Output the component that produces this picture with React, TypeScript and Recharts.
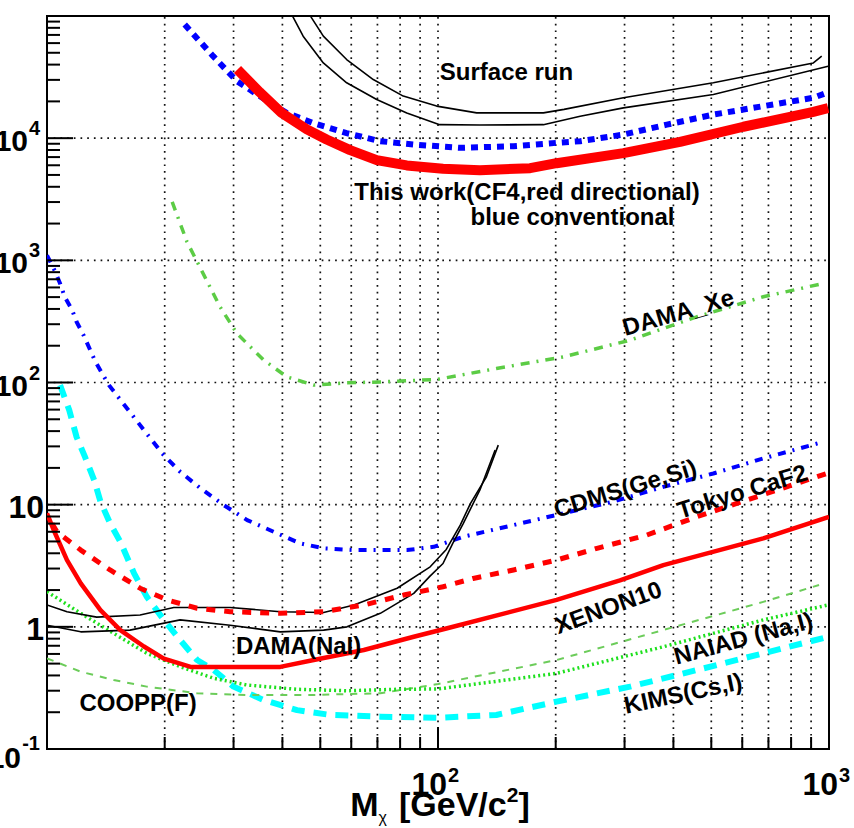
import React from 'react';
import { LineChart, Line, XAxis, YAxis, ReferenceLine, ReferenceArea, ReferenceDot } from 'recharts';

type Pt = [number, number];

// ---------- series values (x: WIMP mass GeV/c^2, y: cross-section limit) ----------
const SURFACE_RUN_UPPER: Pt[] = [[44.4, 136000], [47.5, 96600], [50.9, 68400], [58.4, 44000], [68.3, 30200], [81.5, 22100], [99.2, 18300], [125.6, 16100], [186, 16100], [210, 17200], [298, 21400], [506, 28400], [912, 41300], [958, 46900]];
const SURFACE_RUN_LOWER: Pt[] = [[40.2, 136000], [42.7, 96600], [45.2, 68400], [50.9, 41300], [58.4, 28400], [69.7, 20700], [83.2, 16100], [101, 12900], [128, 12800], [186, 12900], [231, 15100], [298, 17700], [506, 22800], [995, 38800]];
const THIS_WORK_CONVENTIONAL: Pt[] = [[22.5, 85200], [26.6, 46900], [30.6, 29300], [35.0, 22100], [41.0, 16100], [48.0, 13300], [58.4, 11000], [71.1, 9450], [86.5, 8880], [114, 8330], [156, 8600], [201, 9160], [231, 9450], [298, 10700], [385, 12900], [506, 15600], [679, 18300], [912, 21400], [986, 23500]];
const THIS_WORK_DIRECTIONAL: Pt[] = [[30.7, 36500], [35.0, 23800], [39.8, 16100], [46.2, 11800], [51.9, 9750], [59.6, 7980], [69.7, 6610], [83.2, 5980], [103, 5610], [128, 5470], [172, 5680], [201, 6240], [298, 7540], [416, 9330], [604, 12400], [912, 16400], [995, 17600]];
const DAMA_XE: Pt[] = [[20.9, 3010], [22.8, 1420], [25.2, 757], [27.7, 417], [30.6, 252], [35.8, 153], [41.1, 111], [48.1, 95.2], [58.5, 99.5], [71.2, 101], [99.4, 106], [141, 130], [209, 162], [310, 222], [459, 345], [679, 503], [967, 647]];
const CDMS_GE_SI: Pt[] = [[10, 1100], [10.5, 805], [10.8, 647], [11.1, 503], [11.6, 391], [11.9, 314], [12.4, 244], [13.3, 148], [14.4, 95.2], [15.9, 63.3], [17.7, 40.8], [19.7, 26.3], [21.9, 18.6], [24.7, 13.6], [28.3, 9.93], [32.5, 7.48], [38.0, 6.0], [44.4, 4.82], [51.0, 4.39], [60.9, 4.25], [83.3, 4.25], [97.5, 4.52], [116, 5.46], [156, 6.81], [209, 8.49], [281, 10.6], [377, 14.0], [506, 18.0], [679, 23.9], [967, 32.7]];
const TOKYO_CAF2: Pt[] = [[10.3, 7.0], [10.6, 6.0], [12.2, 4.25], [14.5, 2.92], [17.3, 2.07], [20.3, 1.66], [24.2, 1.42], [29.4, 1.33], [39.5, 1.29], [51.0, 1.33], [64.6, 1.51], [81.7, 1.82], [103, 2.13], [123, 2.49], [156, 2.92], [201, 3.52], [255, 4.39], [342, 5.64], [459, 7.96], [616, 10.9], [827, 14.9], [986, 18.0]];
const XENON10: Pt[] = [[10, 8.5], [10.4, 6.2], [11.25, 3.52], [12.2, 2.27], [13.7, 1.37], [15.4, 0.94], [17.7, 0.69], [19.9, 0.55], [23.3, 0.47], [39.5, 0.47], [48.1, 0.535], [64.6, 0.646], [86.7, 0.83], [105, 0.97], [201, 1.66], [292, 2.4], [377, 3.2], [679, 5.3], [1000, 7.96]];
const DAMA_NAI_UPPER: Pt[] = [[10, 1.51], [11.25, 1.33], [13.4, 1.2], [17.3, 1.25], [21.1, 1.44], [29.4, 1.44], [39.5, 1.33], [51, 1.31], [61, 1.51], [78.6, 2.07], [95.5, 3.1], [105, 4.3], [114, 6.8], [121, 10.2], [133, 16.9], [142.6, 30.7]];
const DAMA_NAI_LOWER: Pt[] = [[10, 1.03], [12.2, 0.91], [16.3, 0.94], [21.9, 1.14], [29.4, 1.03], [39.5, 0.91], [51, 0.94], [58.5, 1.0], [71.2, 1.29], [86.7, 1.88], [95.4, 2.6], [103, 3.3], [109, 4.8], [116, 7.0], [128, 13.2], [140, 28]];
const NAIAD: Pt[] = [[10, 1.94], [12.2, 1.29], [14.8, 0.885], [18.0, 0.607], [21.9, 0.472], [26.7, 0.379], [32.5, 0.334], [43.6, 0.308], [58.5, 0.30], [78.6, 0.308], [100, 0.31], [201, 0.416], [377, 0.687], [679, 1.14], [995, 1.51]];
const COOPP: Pt[] = [[10, 0.552], [12.2, 0.429], [14.8, 0.367], [18.0, 0.324], [24.2, 0.286], [32.5, 0.277], [48.1, 0.277], [71.2, 0.286], [100, 0.34], [201, 0.535], [377, 0.942], [679, 1.6], [943, 2.2]];
const KIMS: Pt[] = [[10.8, 95.2], [11.4, 59.4], [11.9, 35.9], [12.5, 24.7], [13.2, 15.9], [13.7, 10.6], [14.5, 7.03], [15.4, 4.97], [16.7, 2.74], [18.0, 1.76], [19.9, 1.14], [21.9, 0.78], [24.2, 0.535], [26.7, 0.443], [30.0, 0.324], [35.8, 0.252], [43.6, 0.208], [53.0, 0.19], [71.2, 0.184], [99.4, 0.18], [141, 0.19], [201, 0.244], [310, 0.324], [459, 0.443], [679, 0.607], [995, 0.829]];

// ---------- axis ticks and labels ----------
const X_DOMAIN: [number, number] = [10, 1000];
const Y_DOMAIN: [number, number] = [0.1, 100000];
const X_TICKS = [20, 30, 40, 50, 60, 70, 80, 90, 100, 200, 300, 400, 500, 600, 700, 800, 900, 1000];
const X_GRID = [20, 30, 40, 50, 60, 70, 80, 90, 100, 200, 300, 400, 500, 600, 700, 800, 900];
const X_MAJOR = [100, 1000];
const X_MAJOR_EXP = ['2', '3'];
const Y_MAJOR = [0.1, 1, 10, 100, 1000, 10000];
const Y_MAJOR_BASE = ['10', '1', '10', '10', '10', '10'];
const Y_MAJOR_EXP = ['-1', '', '', '2', '3', '4'];
const Y_GRID = [1, 10, 100, 1000, 10000];
const Y_MINOR_MULT = [2, 3, 4, 5, 6, 7, 8, 9];
const Y_TICKS: number[] = [];
Y_MAJOR.forEach((d) => {
  Y_TICKS.push(d);
  Y_MINOR_MULT.forEach((m) => Y_TICKS.push(d * m));
});

// ---------- text annotations (data coordinates) ----------
const ANNOTATIONS = [
  { txt: 'Surface run', x: 149.7, y: 35300, rot: 0 },
  { txt: 'This work(CF4,red directional)', x: 168.9, y: 3680, rot: 0 },
  { txt: 'blue conventional', x: 220.8, y: 2300, rot: 0 },
  { txt: 'DAMA_Xe', x: 411, y: 377, rot: -16 },
  { txt: 'CDMS(Ge,Si)', x: 300.8, y: 13.7, rot: -17 },
  { txt: 'Tokyo CaF2', x: 599, y: 12.9, rot: -17 },
  { txt: 'XENON10', x: 272, y: 1.45, rot: -20 },
  { txt: 'NAIAD (Na,I)', x: 603, y: 0.81, rot: -15 },
  { txt: 'KIMS(Cs,I)', x: 423, y: 0.287, rot: -12 },
  { txt: 'DAMA(NaI)', x: 44.0, y: 0.697, rot: 0 },
  { txt: 'COOPP(F)', x: 17.1, y: 0.24, rot: 0 },
];

const FONT = '"Liberation Sans", Arial, Helvetica, sans-serif';

const SERIES = [
  { name: 'surfaceUpper', data: SURFACE_RUN_UPPER, color: '#000000', width: 1.6, dash: undefined },
  { name: 'surfaceLower', data: SURFACE_RUN_LOWER, color: '#000000', width: 1.6, dash: undefined },
  { name: 'damaXe', data: DAMA_XE, color: '#5ccc45', width: 3.5, dash: '9 7 2 7' },
  { name: 'cdms', data: CDMS_GE_SI, color: '#0000ff', width: 4, dash: '8 7 2 7' },
  { name: 'kims', data: KIMS, color: '#00ffff', width: 6, dash: '13 9' },
  { name: 'coopp', data: COOPP, color: '#6ccc5a', width: 2, dash: '7 7' },
  { name: 'naiad', data: NAIAD, color: '#1ee01e', width: 3.5, dash: '2 3' },
  { name: 'damaNaiUpper', data: DAMA_NAI_UPPER, color: '#000000', width: 1.6, dash: undefined },
  { name: 'damaNaiLower', data: DAMA_NAI_LOWER, color: '#000000', width: 1.6, dash: undefined },
  { name: 'tokyo', data: TOKYO_CAF2, color: '#ff0000', width: 5, dash: '9 9' },
  { name: 'xenon10', data: XENON10, color: '#ff0000', width: 4.5, dash: undefined },
  { name: 'conventional', data: THIS_WORK_CONVENTIONAL, color: '#0000ff', width: 6, dash: '7 6' },
  { name: 'directional', data: THIS_WORK_DIRECTIONAL, color: '#ff0000', width: 10, dash: undefined },
];

const toRows = (pts: Pt[]) => pts.map(([x, y]) => ({ x, y }));

const XTick = (props: any) => {
  const { x, y, payload } = props;
  const v = payload.value;
  const i = X_MAJOR.findIndex((m) => Math.abs(m - v) < 1e-9);
  const major = i >= 0;
  return (
    <g>
      <line x1={x} y1={y} x2={x} y2={y - (major ? 22 : 12)} stroke="#000" strokeWidth={2} />
      {major && (
        <g fontFamily={FONT} fontWeight="bold" fill="#000">
          <text x={x + 9} y={y + 46} textAnchor="end" fontSize={32}>10</text>
          <text x={x + 10} y={y + 33} fontSize={20}>{X_MAJOR_EXP[i]}</text>
        </g>
      )}
    </g>
  );
};

const YTick = (props: any) => {
  const { x, y, payload } = props;
  const v = payload.value;
  const i = Y_MAJOR.findIndex((m) => Math.abs(Math.log10(m) - Math.log10(v)) < 1e-6);
  const major = i >= 0;
  let label: React.ReactNode = null;
  if (major) {
    const base = Y_MAJOR_BASE[i];
    const exp = Y_MAJOR_EXP[i];
    if (!exp) {
      label = <text x={x - 3} y={y + 13} textAnchor="end" fontSize={32}>{base}</text>;
    } else {
      const low = v < 1;
      const supW = exp.length > 1 ? 19 : 12;
      label = (
        <>
          <text x={x - 7 - supW} y={y + (low ? 19 : 13)} textAnchor="end" fontSize={30}>{base}</text>
          <text x={x - 7} y={y + (low ? 1 : -3)} textAnchor="end" fontSize={20}>{exp}</text>
        </>
      );
    }
  }
  return (
    <g>
      <line x1={x} y1={y} x2={x + (major ? 26 : 13)} y2={y} stroke="#000" strokeWidth={2} />
      {major && (
        <g fontFamily={FONT} fontWeight="bold" fill="#000">{label}</g>
      )}
    </g>
  );
};

const Anno = (props: any) => {
  const { viewBox, txt, rot } = props;
  if (!viewBox) return null;
  const cx = viewBox.x + (viewBox.width || 0) / 2;
  const cy = viewBox.y + (viewBox.height || 0) / 2;
  return (
    <text
      x={cx}
      y={cy}
      textAnchor="middle"
      dominantBaseline="central"
      fontFamily={FONT}
      fontWeight="bold"
      fontSize={24}
      fill="#000"
      transform={rot ? `rotate(${rot} ${cx} ${cy})` : undefined}
    >
      {txt}
    </text>
  );
};

const AxisTitle = (props: any) => {
  const { viewBox } = props;
  if (!viewBox) return null;
  const cx = viewBox.x + viewBox.width / 2 + 2;
  const by = viewBox.y + 67;
  return (
    <text x={cx} y={by} textAnchor="middle" fontFamily={FONT} fontWeight="bold" fontSize={34} fill="#000">
      M<tspan fontSize={16} fontWeight="normal" dy={7}>χ</tspan>
      <tspan dx={12} dy={-7}>[GeV/c</tspan>
      <tspan fontSize={21} dy={-14}>2</tspan>
      <tspan dy={14}>]</tspan>
    </text>
  );
};

export default function App() {
  return (
    <div style={{ position: 'absolute', left: 0, top: 0, width: 854, height: 828, background: '#fff' }}>
      <LineChart width={854} height={828} margin={{ top: 16, right: 25, bottom: 0, left: 0 }}>
        <XAxis
          dataKey="x"
          type="number"
          scale="log"
          domain={X_DOMAIN}
          allowDataOverflow
          ticks={X_TICKS}
          interval={0}
          height={79}
          axisLine={false}
          tickLine={false}
          tickSize={0}
          tickMargin={0}
          tick={<XTick />}
          label={<AxisTitle />}
        />
        <YAxis
          dataKey="y"
          type="number"
          scale="log"
          domain={Y_DOMAIN}
          allowDataOverflow
          ticks={Y_TICKS}
          interval={0}
          width={47}
          axisLine={false}
          tickLine={false}
          tickSize={0}
          tickMargin={0}
          tick={<YTick />}
        />
        {X_GRID.map((v) => (
          <ReferenceLine key={'gx' + v} x={v} stroke="#111" strokeWidth={1.7} strokeDasharray="1.7 5" />
        ))}
        {Y_GRID.map((v) => (
          <ReferenceLine key={'gy' + v} y={v} stroke="#111" strokeWidth={1.7} strokeDasharray="1.7 5" />
        ))}
        {SERIES.map((s) => (
          <Line
            key={s.name}
            name={s.name}
            data={toRows(s.data)}
            dataKey="y"
            type="linear"
            dot={false}
            activeDot={false}
            isAnimationActive={false}
            stroke={s.color}
            strokeWidth={s.width}
            strokeDasharray={s.dash}
            strokeLinejoin="round"
          />
        ))}
        {ANNOTATIONS.map((a) => (
          <ReferenceDot
            key={a.txt}
            x={a.x}
            y={a.y}
            r={0}
            fill="none"
            stroke="none"
            label={<Anno txt={a.txt} rot={a.rot} />}
          />
        ))}
        <ReferenceArea x1={X_DOMAIN[0]} x2={X_DOMAIN[1]} y1={Y_DOMAIN[0]} y2={Y_DOMAIN[1]} fill="none" stroke="#000" strokeWidth={2} />
      </LineChart>
    </div>
  );
}
